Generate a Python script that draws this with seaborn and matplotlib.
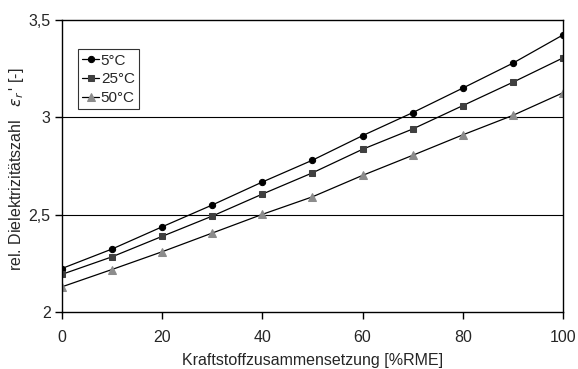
#!/usr/bin/env python3
# coding: utf-8

import numpy as np
import pandas as pd
import matplotlib
matplotlib.use("Agg")
import matplotlib.pyplot as plt
import seaborn as sns

# Kraftstoffzusammensetzung [%RME]
rme = [0, 10, 20, 30, 40, 50, 60, 70, 80, 90, 100]
# rel. Dielektrizitätszahl per temperature
eps_5 = [2.224, 2.324, 2.438, 2.55, 2.668, 2.78, 2.906, 3.024, 3.15, 3.278, 3.423]
eps_25 = [2.194, 2.284, 2.389, 2.493, 2.606, 2.715, 2.836, 2.94, 3.06, 3.18, 3.305]
eps_50 = [2.13, 2.219, 2.31, 2.406, 2.502, 2.592, 2.702, 2.805, 2.91, 3.01, 3.126]
labels = ["5°C", "25°C", "50°C"]
y_ticks = [2, 2.5, 3, 3.5]
y_ticklabels = ["2", "2,5", "3", "3,5"]
x_ticks = [0, 20, 40, 60, 80, 100]

df = pd.DataFrame({
    "rme": rme * 3,
    "eps": eps_5 + eps_25 + eps_50,
    "temp": [labels[0]] * len(rme) + [labels[1]] * len(rme) + [labels[2]] * len(rme),
})

sns.set_style("white")
plt.rcParams["font.family"] = ["Liberation Sans", "DejaVu Sans"]

fig = plt.figure(figsize=(5.78, 3.69), dpi=100)
ax = fig.add_axes([0.107, 0.154, 0.867, 0.792])

styles = {
    "5°C": dict(marker="o", mfc="black", mec="black", ms=4.5),
    "25°C": dict(marker="s", mfc="#404040", mec="#404040", ms=4.5),
    "50°C": dict(marker="^", mfc="#8c8c8c", mec="#8c8c8c", ms=6),
}
for t in labels:
    sub = df[df["temp"] == t]
    sns.lineplot(data=sub, x="rme", y="eps", ax=ax, color="black", lw=0.9,
                 label=t, **styles[t])

for g in [2.5, 3.0]:
    ax.axhline(g, color="black", lw=0.8, zorder=0)

ax.set_xlim(0, 100)
ax.set_ylim(2, 3.5)
ax.set_yticks(y_ticks)
ax.set_yticklabels(y_ticklabels)
ax.set_xticks(x_ticks)
for s in ax.spines.values():
    s.set_color("black")
    s.set_linewidth(1.0)
ax.tick_params(axis="both", direction="out", length=5, width=1, color="black",
               labelsize=11.5, left=True, bottom=True)
ax.tick_params(axis="x", pad=8)
ax.tick_params(axis="y", pad=3)

ax.set_xlabel("Kraftstoffzusammensetzung [%RME]", fontsize=11.5, labelpad=5.5)
ax.set_ylabel(r"rel. Dielektrizitätszahl   $\varepsilon_r\,$' [-]", fontsize=11.5,
              va="center")
ax.yaxis.set_label_coords(-0.09, 0.49)

leg = ax.legend(loc="upper left", bbox_to_anchor=(0.032, 0.9), frameon=True,
                fancybox=False, edgecolor="black", fontsize=11,
                handlelength=1.1, handletextpad=0.1, borderpad=0.3,
                labelspacing=0.3, borderaxespad=0)
leg.get_frame().set_linewidth(0.8)

fig.savefig("out.png", dpi=100)
